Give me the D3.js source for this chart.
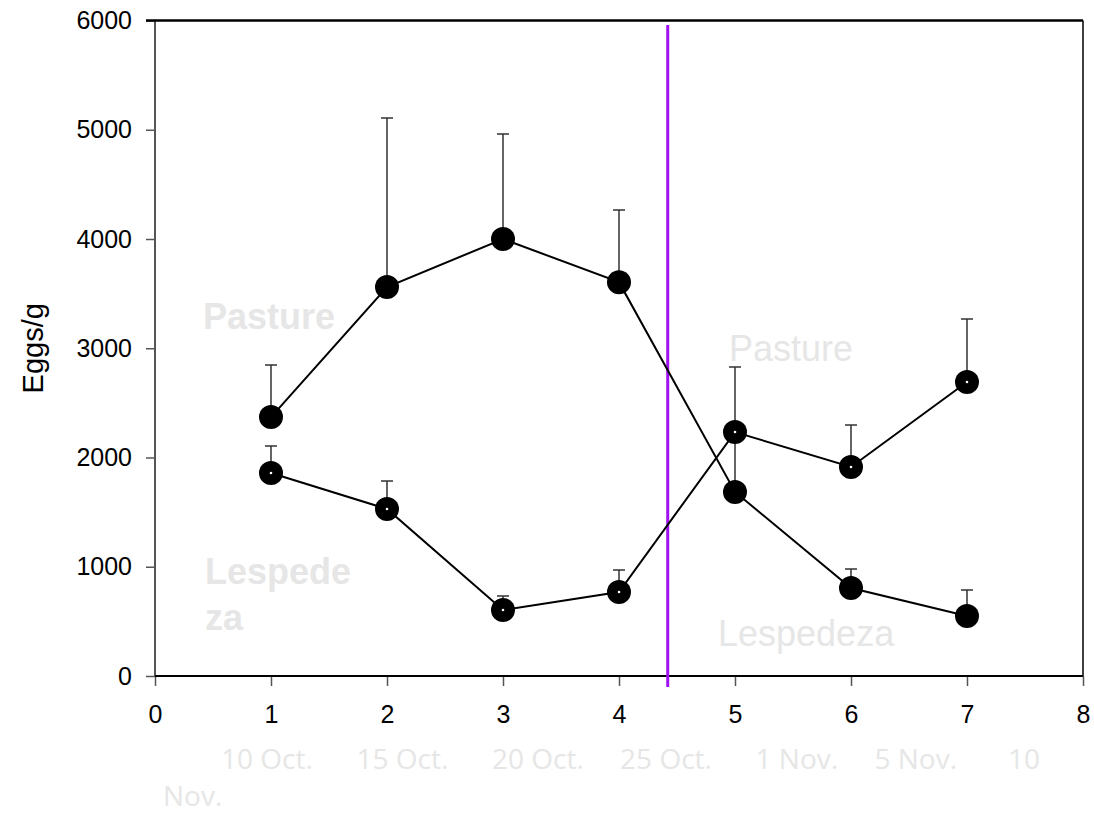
<!DOCTYPE html>
<html lang="en">
<head>
    <meta charset="UTF-8">
    <title>Eggs/g</title>
    <script src="https://d3js.org/d3.v7.min.js"></script>
    <style>
        body { margin: 0; background: #fff; }
    </style>
</head>
<body>
    <svg width="1094" height="813"></svg>

    <script>
        // sampling points (x axis) and the two group means
        const days = [1, 2, 3, 4, 5, 6, 7];
        const groupA = [2370, 3560, 4000, 3605, 1685, 805, 550];     // pasture first
        const groupAUpper = [2847, 5108, 4961, 4265, 2250, 979, 787];
        const groupB = [1858, 1529, 604, 769, 2233, 1913, 2691];     // lespedeza first
        const groupBUpper = [2105, 1785, 732, 970, 2828, 2297, 3268];

        const xTicks = [0, 1, 2, 3, 4, 5, 6, 7, 8];
        const yTicks = [0, 1000, 2000, 3000, 4000, 5000, 6000];
        const switchDay = 4.42;
        const dateLine1 = '10 Oct.      15 Oct.      20 Oct.     25 Oct.      1 Nov.     5 Nov.       10';
        const dateLine2 = 'Nov.';

        const plotLeft = 155, plotRight = 1083, plotTop = 20.5, plotBottom = 676;
        const x = d3.scaleLinear().domain([0, 8]).range([plotLeft, plotRight]);
        const y = d3.scaleLinear().domain([0, 6000]).range([plotBottom, plotTop]);

        const svg = d3.select('svg')
            .attr('font-family', "'Liberation Sans', Arial, sans-serif");

        // background labels
        const faint = '#e6e6e6';
        svg.append('text').attr('x', 203).attr('y', 329)
            .attr('font-size', 36).attr('font-weight', 'bold').attr('fill', faint).text('Pasture');
        svg.append('text').attr('x', 205).attr('y', 584)
            .attr('font-size', 36).attr('font-weight', 'bold').attr('fill', faint).text('Lespede');
        svg.append('text').attr('x', 205).attr('y', 630)
            .attr('font-size', 36).attr('font-weight', 'bold').attr('fill', faint).text('za');
        svg.append('text').attr('x', 729).attr('y', 361)
            .attr('font-size', 36).attr('fill', faint).text('Pasture');
        svg.append('text').attr('x', 718).attr('y', 646)
            .attr('font-size', 36).attr('fill', faint).text('Lespedeza');

        const dates = svg.append('text')
            .attr('font-family', "'Open Sans', Lato, sans-serif")
            .attr('font-size', 28)
            .attr('fill', faint)
            .style('white-space', 'pre');
        dates.append('tspan').attr('x', 221).attr('y', 769).text(dateLine1);
        dates.append('tspan').attr('x', 163).attr('y', 806).text(dateLine2);

        // axes
        const xAxis = svg.append('g')
            .attr('transform', `translate(0,${plotBottom})`)
            .call(d3.axisBottom(x).tickValues(xTicks).tickFormat(d3.format('d'))
                .tickSize(10).tickPadding(19).tickSizeOuter(0));
        const yAxis = svg.append('g')
            .attr('transform', `translate(${plotLeft},0)`)
            .call(d3.axisLeft(y).tickValues(yTicks).tickFormat(d3.format('d'))
                .tickSize(9).tickPadding(14).tickSizeOuter(0));

        [xAxis, yAxis].forEach(g => {
            g.select('.domain').remove();
            g.selectAll('.tick line').attr('stroke', '#555').attr('stroke-width', 1.5);
            g.selectAll('.tick text')
                .attr('font-family', "'Liberation Sans', Arial, sans-serif")
                .attr('font-size', 25)
                .attr('fill', '#000');
        });

        // frame
        svg.append('line').attr('x1', plotLeft).attr('x2', plotLeft).attr('y1', plotTop).attr('y2', plotBottom)
            .attr('stroke', '#555').attr('stroke-width', 2);
        svg.append('line').attr('x1', plotLeft).attr('x2', plotRight).attr('y1', plotBottom).attr('y2', plotBottom)
            .attr('stroke', '#000').attr('stroke-width', 2);
        svg.append('line').attr('x1', plotLeft - 9).attr('x2', plotRight).attr('y1', plotTop).attr('y2', plotTop)
            .attr('stroke', '#000').attr('stroke-width', 2.5);
        svg.append('line').attr('x1', plotRight).attr('x2', plotRight).attr('y1', plotTop).attr('y2', plotBottom)
            .attr('stroke', '#000').attr('stroke-width', 1.5);

        svg.append('text')
            .attr('transform', `translate(43,${(plotTop + plotBottom) / 2}) rotate(-90)`)
            .attr('text-anchor', 'middle')
            .attr('font-size', 29)
            .text('Eggs/g');

        // treatment switch
        svg.append('line')
            .attr('x1', x(switchDay)).attr('x2', x(switchDay))
            .attr('y1', 25).attr('y2', 687)
            .attr('stroke', '#a010f0').attr('stroke-width', 3);

        const groups = [
            { mean: groupA, upper: groupAUpper, dot: false },
            { mean: groupB, upper: groupBUpper, dot: true }
        ];

        const line = d3.line().x(d => x(d[0])).y(d => y(d[1]));

        groups.forEach(gr => {
            const pts = days.map((d, i) => [d, gr.mean[i], gr.upper[i]]);
            const g = svg.append('g');

            g.selectAll('.err')
                .data(pts)
                .join('path')
                .attr('fill', 'none')
                .attr('stroke', '#333')
                .attr('stroke-width', 1.5)
                .attr('d', d => `M${x(d[0])},${y(d[1])}V${y(d[2])}M${x(d[0]) - 6},${y(d[2])}H${x(d[0]) + 6}`);

            g.append('path')
                .datum(pts)
                .attr('fill', 'none')
                .attr('stroke', '#000')
                .attr('stroke-width', 2)
                .attr('d', line);

            g.selectAll('.dot')
                .data(pts)
                .join('circle')
                .attr('cx', d => x(d[0]))
                .attr('cy', d => y(d[1]))
                .attr('r', 12)
                .attr('fill', '#000');

            if (gr.dot) {
                g.selectAll('.centre')
                    .data(pts)
                    .join('circle')
                    .attr('cx', d => x(d[0]))
                    .attr('cy', d => y(d[1]))
                    .attr('r', 1.3)
                    .attr('fill', '#fff');
            }
        });
    </script>
</body>
</html>
